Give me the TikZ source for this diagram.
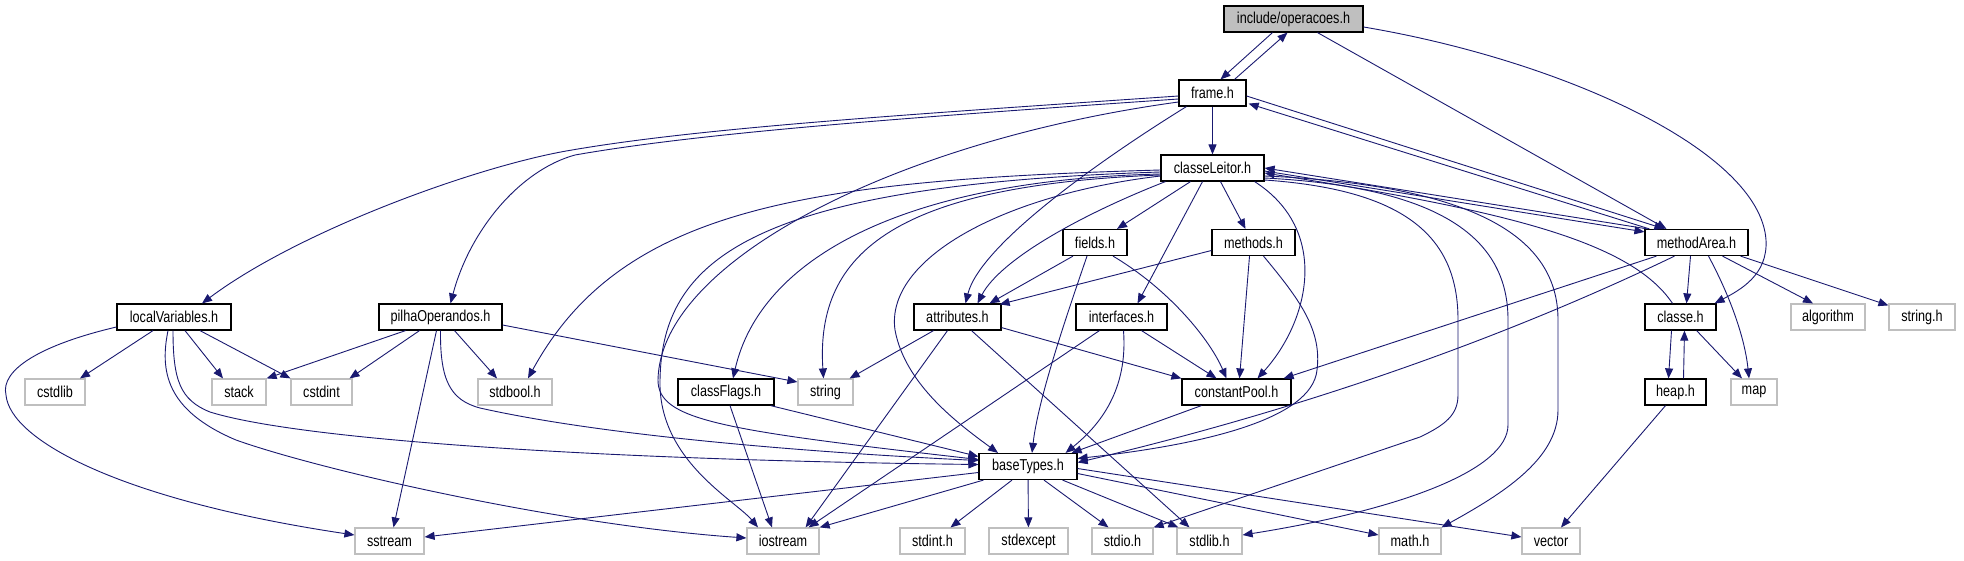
\documentclass[tikz,border=0pt]{standalone}
\usepackage{fontspec}
\setmainfont{Liberation Sans}
\newfontfamily\doxfont[FakeStretch=0.8]{Liberation Sans}
\usetikzlibrary{arrows.meta,calc}
\definecolor{edgeblue}{HTML}{191970}
\definecolor{sysgray}{HTML}{BFBFBF}
\begin{document}
\begin{tikzpicture}[x=1pt,y=-1pt,
  box/.style={draw=black, line width=1.2pt, fill=white, minimum height=26pt, inner sep=0pt, font=\doxfont\fontsize{15.8}{17}\selectfont},
  sys/.style={box, draw=sysgray},
  root/.style={box, fill=sysgray},
  dep/.style={draw=edgeblue, line width=0.9pt, -{Triangle[length=10pt,width=8pt]}}]
\useasboundingbox (0,0) rectangle (1964,560);
\fill[white] (0,0) rectangle (1964,560);
% nodes
\node[root, minimum width=139pt] (op) at (1293.5,19) {include/operacoes.h};
\node[box, minimum width=67pt] (frame) at (1212.5,93) {frame.h};
\node[box, minimum width=103pt] (cl) at (1212.5,168) {classeLeitor.h};
\node[box, minimum width=64pt] (fields) at (1095,242.5) {fields.h};
\node[box, minimum width=83pt] (methods) at (1253.5,242.5) {methods.h};
\node[box, minimum width=103pt] (ma) at (1696.5,242.5) {methodArea.h};
\node[box, minimum width=114pt] (lv) at (174,317) {localVariables.h};
\node[box, minimum width=123pt] (pilha) at (440.5,317) {pilhaOperandos.h};
\node[box, minimum width=87pt] (attr) at (957.5,317) {attributes.h};
\node[box, minimum width=91pt] (intf) at (1121.5,317) {interfaces.h};
\node[box, minimum width=71pt] (classe) at (1680.5,317) {classe.h};
\node[sys, minimum width=74pt] (algo) at (1828,317) {algorithm};
\node[sys, minimum width=66pt] (stringh) at (1922,317) {string.h};
\node[sys, minimum width=60pt] (cstdlib) at (55,392) {cstdlib};
\node[sys, minimum width=54pt] (stack) at (239,392) {stack};
\node[sys, minimum width=61pt] (cstdint) at (321.5,392) {cstdint};
\node[sys, minimum width=74pt] (stdbool) at (515,392) {stdbool.h};
\node[box, minimum width=96pt] (cflags) at (726,392) {classFlags.h};
\node[sys, minimum width=55pt] (string) at (825.5,392) {string};
\node[box, minimum width=109pt] (cp) at (1236.5,392) {constantPool.h};
\node[box, minimum width=61pt] (heap) at (1675.5,392) {heap.h};
\node[sys, minimum width=46pt] (map) at (1754,392) {map};
\node[box, minimum width=98pt] (bt) at (1028,466.5) {baseTypes.h};
\node[sys, minimum width=69pt] (sstream) at (389.5,541) {sstream};
\node[sys, minimum width=72pt] (iostream) at (783,541) {iostream};
\node[sys, minimum width=65pt] (stdint) at (932.5,541) {stdint.h};
\node[sys, minimum width=79pt] (stdexcept) at (1028.5,541) {stdexcept};
\node[sys, minimum width=61pt] (stdio) at (1122.5,541) {stdio.h};
\node[sys, minimum width=65pt] (stdlib) at (1209.5,541) {stdlib.h};
\node[sys, minimum width=62pt] (math) at (1410,541) {math.h};
\node[sys, minimum width=58pt] (vector) at (1551,541) {vector};
% operacoes.h
\draw[dep] ($(op.south)+(-21,0)$) -- ($(frame.north)+(8,0)$);
\draw[dep] ($(frame.north)+(22,0)$) -- ($(op.south)+(-6,0)$);
\draw[dep] ($(op.south)+(24,0)$) -- ($(ma.north)+(-30,0)$);
\draw[dep] ($(op.east)+(0,8)$) .. controls (1560,60) and (1760,150) .. (1766,240) .. controls (1768,275) and (1740,290) .. ($(classe.north east)+(-2,0)$);
% frame.h
\draw[dep] (frame) -- (cl);
\draw[dep] ($(frame.west)+(0,3)$) .. controls (900,115) and (700,128) .. (572,150) .. controls (480,165) and (300,230) .. ($(lv.north)+(28,0)$);
\draw[dep] ($(frame.west)+(0,6)$) .. controls (900,118) and (700,133) .. (575,155) .. controls (520,170) and (470,230) .. ($(pilha.north)+(10,0)$);
\draw[dep] ($(frame.west)+(0,9)$) .. controls (900,140) and (660,260) .. (658,380) .. controls (658,420) and (720,430) .. ($(bt.west)+(0,-7)$);
\draw[dep] ($(frame.south west)+(8,0)$) .. controls (1100,160) and (980,245) .. ($(attr.north)+(8,0)$);
\draw[dep] ($(frame.east)+(0,3)$) -- ($(ma.north west)+(20,0)$);
\draw[dep] ($(ma.north west)+(5,0)$) -- ($(frame.south east)+(2,-3)$);
% classeLeitor.h
\draw[dep] ($(cl.south)+(-22,0)$) -- ($(fields.north)+(22,0)$);
\draw[dep] ($(cl.south)+(8,0)$) -- ($(methods.north)+(-8,0)$);
\draw[dep] ($(cl.south)+(-10,0)$) -- ($(intf.north)+(16,0)$);
\draw[dep] ($(cl.south west)+(5,0)$) .. controls (1080,215) and (1000,260) .. ($(attr.north)+(20,0)$);
\draw[dep] ($(cl.west)+(0,8)$) .. controls (1000,195) and (885,260) .. (895,330) .. controls (905,385) and (960,425) .. ($(bt.north)+(-30,0)$);
\draw[dep] ($(cl.west)+(0,4)$) .. controls (750,185) and (662,260) .. (660,380) .. controls (658,460) and (735,500) .. ($(iostream.north)+(-25,0)$);
\draw[dep] ($(cl.west)+(0,6)$) .. controls (900,180) and (760,260) .. ($(cflags.north)+(7,0)$);
\draw[dep] ($(cl.west)+(0,7)$) .. controls (900,185) and (815,250) .. ($(string.north)+(-2,0)$);
\draw[dep] ($(cl.west)+(0,2)$) .. controls (800,180) and (620,210) .. ($(stdbool.north)+(13,0)$);
\draw[dep] ($(cl.south east)+(-10,0)$) .. controls (1330,230) and (1310,320) .. ($(cp.north)+(21,0)$);
\draw[dep] ($(cl.east)+(0,12)$) .. controls (1410,190) and (1458,240) .. (1458,320) -- (1458,395) .. controls (1458,415) and (1445,425) .. (1420,437) -- (stdio.north east);
\draw[dep] ($(cl.east)+(0,10)$) .. controls (1460,188) and (1508,250) .. (1508,320) -- (1508,425) .. controls (1508,470) and (1400,510) .. ($(stdlib.east)+(0,-6)$);
\draw[dep] ($(cl.east)+(0,8)$) .. controls (1500,186) and (1558,250) .. (1558,320) -- (1558,410) .. controls (1558,460) and (1500,495) .. (math.north east);
\draw[dep] ($(cl.east)+(0,3)$) -- ($(ma.north west)+(0,3)$);
\draw[dep] ($(ma.north west)+(3,0)$) -- (cl.east);
% methodArea.h
\draw[dep] ($(ma.south)+(-6,0)$) -- ($(classe.north)+(6,0)$);
\draw[dep] ($(ma.south)+(12,0)$) .. controls (1732,300) and (1745,340) .. ($(map.north)+(-5,0)$);
\draw[dep] ($(ma.south)+(26,0)$) -- ($(algo.north)+(-15,0)$);
\draw[dep] ($(ma.south east)+(-8,0)$) -- ($(stringh.north west)+(0,2)$);
\draw[dep] ($(ma.south west)+(12,0)$) -- ($(cp.north east)+(-8,0)$);
\draw[dep] ($(ma.south)+(-22,0)$) .. controls (1500,340) and (1300,410) .. ($(bt.east)+(0,-4)$);
% classe.h / heap.h
\draw[dep] ($(classe.north)+(-8,0)$) .. controls (1630,240) and (1500,210) .. ($(cl.east)+(0,5)$);
\draw[dep] ($(classe.south)+(-9,0)$) -- ($(heap.north)+(-7,0)$);
\draw[dep] ($(heap.north)+(8,0)$) -- ($(classe.south)+(4,0)$);
\draw[dep] ($(classe.south east)+(-20,0)$) -- ($(map.north)+(-12,0)$);
\draw[dep] ($(heap.south)+(-10,0)$) -- ($(vector.north)+(10,0)$);
% fields.h
\draw[dep] ($(fields.south)+(-22,0)$) -- ($(attr.north)+(32,0)$);
\draw[dep] ($(fields.south)+(-8,0)$) .. controls (1065,320) and (1038,400) .. ($(bt.north)+(4,0)$);
\draw[dep] ($(fields.south)+(18,0)$) .. controls (1170,290) and (1210,340) .. ($(cp.north)+(-10,0)$);
% methods.h
\draw[dep] ($(methods.west)+(0,8)$) -- ($(attr.north east)+(-2,1)$);
\draw[dep] ($(methods.south)+(-4,0)$) -- ($(cp.north)+(3,0)$);
\draw[dep] ($(methods.south)+(10,0)$) .. controls (1300,300) and (1322,330) .. (1317,370) .. controls (1312,420) and (1200,445) .. ($(bt.east)+(0,-8)$);
% attributes.h
\draw[dep] ($(attr.south)+(-24,0)$) -- ($(string.north east)+(-4,0)$);
\draw[dep] ($(attr.south east)+(0,-3)$) -- (cp.north west);
\draw[dep] ($(attr.south)+(-10,0)$) -- ($(iostream.north east)+(-14,0)$);
\draw[dep] ($(attr.south)+(14,0)$) -- ($(stdlib.north)+(-20,0)$);
% interfaces.h
\draw[dep] ($(intf.south)+(20,0)$) -- ($(cp.north)+(-20,0)$);
\draw[dep] ($(intf.south)+(2,0)$) .. controls (1128,390) and (1100,425) .. ($(bt.north east)+(-12,0)$);
\draw[dep] ($(intf.south west)+(24,0)$) -- ($(iostream.north east)+(-11,0)$);
% classFlags.h
\draw[dep] ($(cflags.south east)+(-4,0)$) -- ($(bt.west)+(0,-10)$);
\draw[dep] ($(cflags.south)+(4,0)$) -- ($(iostream.north)+(-11,0)$);
% constantPool.h
\draw[dep] ($(cp.south west)+(20,0)$) -- ($(bt.north east)+(-6,0)$);
% baseTypes.h
\draw[dep] ($(bt.west)+(0,6)$) -- ($(sstream.east)+(0,-4)$);
\draw[dep] ($(bt.south west)+(5,0)$) -- (iostream.north east);
\draw[dep] ($(bt.south)+(-16,0)$) -- ($(stdint.north)+(18,0)$);
\draw[dep] (bt) -- (stdexcept);
\draw[dep] ($(bt.south)+(16,0)$) -- ($(stdio.north)+(-14,0)$);
\draw[dep] ($(bt.south east)+(-15,0)$) -- ($(stdlib.north west)+(2,0)$);
\draw[dep] ($(bt.east)+(0,7)$) -- ($(math.west)+(0,-6)$);
\draw[dep] ($(bt.east)+(0,2)$) -- ($(vector.west)+(0,-4)$);
% localVariables.h
\draw[dep] ($(lv.south)+(-21,0)$) -- ($(cstdlib.north)+(25,0)$);
\draw[dep] ($(lv.south)+(11,0)$) -- ($(stack.north)+(-16,0)$);
\draw[dep] ($(lv.south)+(26,0)$) -- (cstdint.north west);
\draw[dep] ($(lv.west)+(0,10)$) .. controls (40,345) and (0,370) .. (6,395) .. controls (10,440) and (120,500) .. ($(sstream.west)+(0,-6)$);
\draw[dep] ($(lv.south)+(-1,0)$) .. controls (173,380) and (180,400) .. (210,412) .. controls (300,440) and (600,460) .. ($(bt.west)+(0,-2)$);
\draw[dep] ($(lv.south)+(-6,0)$) .. controls (160,370) and (165,410) .. (236,440) .. controls (320,470) and (560,525) .. ($(iostream.west)+(0,-3)$);
% pilhaOperandos.h
\draw[dep] ($(pilha.south)+(-35,0)$) -- (stack.north east);
\draw[dep] ($(pilha.south)+(-21,0)$) -- ($(cstdint.north)+(28,0)$);
\draw[dep] ($(pilha.south)+(14,0)$) -- ($(stdbool.north)+(-18,0)$);
\draw[dep] ($(pilha.south)+(-4,0)$) -- ($(sstream.north)+(4,0)$);
\draw[dep] ($(pilha.south)+(0,0)$) .. controls (440,380) and (450,400) .. (480,408) .. controls (600,435) and (800,452) .. ($(bt.west)+(0,-6)$);
\draw[dep] ($(pilha.east)+(0,8)$) -- ($(string.west)+(0,-10)$);
\end{tikzpicture}
\end{document}
